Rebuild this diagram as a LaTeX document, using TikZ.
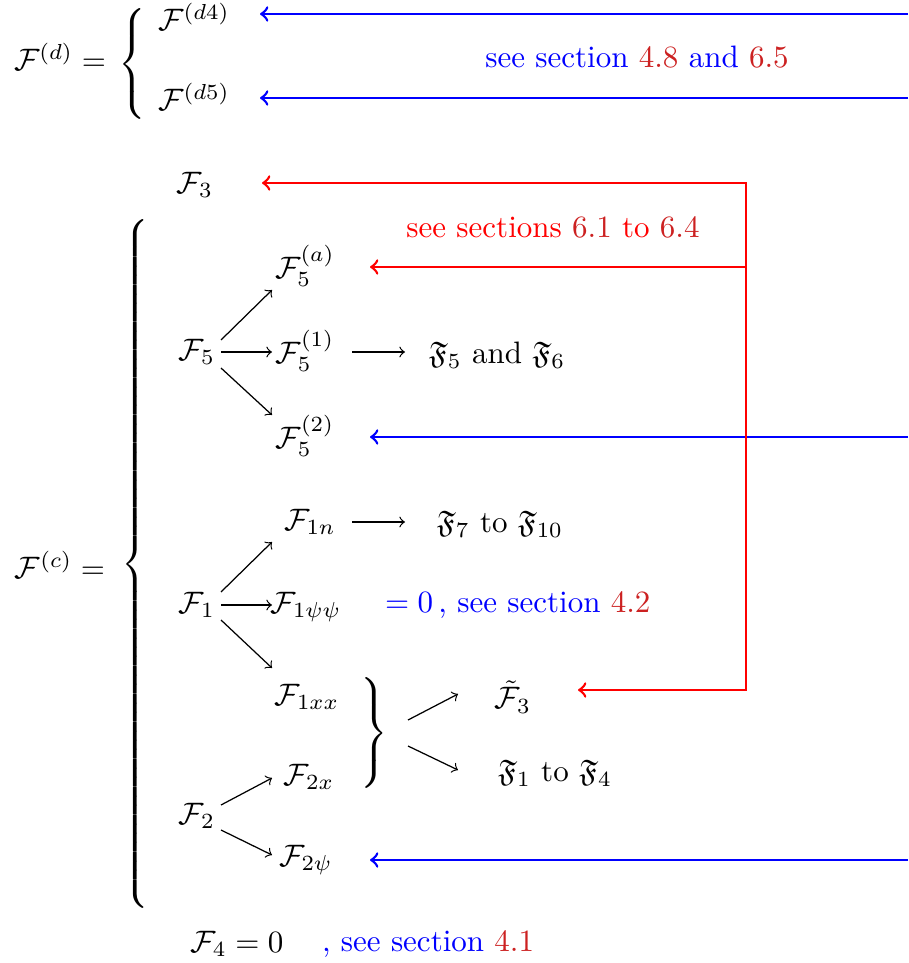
\documentclass[tikz,border=0pt]{standalone}
\usepackage{amsmath,amssymb}
\definecolor{linkred}{rgb}{0.8,0.13,0.13}
\tikzset{
  lbl/.style={inner sep=0pt, outer sep=0pt},
  thinarr/.style={->, line width=0.4pt, black},
  bluearr/.style={->, line width=0.85pt, blue},
  redarr/.style={line width=0.85pt, red},
}
\begin{document}
\begin{tikzpicture}[x=0.3226pt,y=-0.3226pt]
\useasboundingbox (0,0) rectangle (908,963);
% F^(d) block
\node[lbl] (Fd) at (60,57) {$\mathcal{F}^{(d)} =$};
\node[lbl] (braceD) at (134,64) {$\left\{\vrule height 22pt depth 17pt width 0pt\right.$};
\node[lbl] (Fd4) at (194,17) {$\mathcal{F}^{(d4)}$};
\node[lbl] (Fd5) at (194,97) {$\mathcal{F}^{(d5)}$};
\node[lbl, blue] (see48) at (637,57) {see section \textcolor{linkred}{4.8} and \textcolor{linkred}{6.5}};
% F3
\node[lbl] (F3) at (195,185) {$\mathcal{F}_3$};
\node[lbl, red] (see61) at (553,227) {see sections \textcolor{linkred}{6.1} to \textcolor{linkred}{6.4}};
% F^(c) block
\node[lbl] (Fc) at (60,565) {$\mathcal{F}^{(c)} =$};
\node[lbl] (braceC) at (137,564) {$\left\{\vrule height 115pt depth 110pt width 0pt\right.$};
% F5 group
\node[lbl] (F5) at (197,352) {$\mathcal{F}_5$};
\node[lbl] (F5a) at (305,266) {$\mathcal{F}_5^{(a)}$};
\node[lbl] (F51) at (305,351) {$\mathcal{F}_5^{(1)}$};
\node[lbl] (F52) at (305,436) {$\mathcal{F}_5^{(2)}$};
\node[lbl] (F56) at (497,355) {$\mathfrak{F}_5$ and $\mathfrak{F}_6$};
% F1 group
\node[lbl] (F1) at (197,605) {$\mathcal{F}_1$};
\node[lbl] (F1n) at (310,522) {$\mathcal{F}_{1n}$};
\node[lbl] (F1pp) at (306,607) {$\mathcal{F}_{1\psi\psi}$};
\node[lbl] (F1xx) at (307,697) {$\mathcal{F}_{1xx}$};
\node[lbl] (F710) at (500,524) {$\mathfrak{F}_7$ to $\mathfrak{F}_{10}$};
\node[lbl, blue, anchor=west] (eq0) at (385,605) {$= 0$\,, see section \textcolor{linkred}{4.2}};
% F2 group
\node[lbl] (F2) at (197,816) {$\mathcal{F}_2$};
\node[lbl] (F2x) at (309,777) {$\mathcal{F}_{2x}$};
\node[lbl] (F2p) at (306,860) {$\mathcal{F}_{2\psi}$};
\node[lbl] (braceR) at (372,733) {$\left.\vrule height 22pt depth 17pt width 0pt\right\}$};
\node[lbl] (F3t) at (513,697) {$\tilde{\mathcal{F}}_3$};
\node[lbl] (F14) at (555,773) {$\mathfrak{F}_1$ to $\mathfrak{F}_4$};
% F4
\node[lbl] (F4) at (237,944) {$\mathcal{F}_4 = 0$};
\node[lbl, blue, anchor=west] (see41) at (322,944) {, see section \textcolor{linkred}{4.1}};
% coordinates at the right edge and corners
\coordinate (rA) at (908,14);
\coordinate (rB) at (908,98);
\coordinate (rC) at (908,437);
\coordinate (rD) at (908,860);
\coordinate (cR1) at (746,183);
\coordinate (cR2) at (746,690);
\coordinate (cR3) at (746,267);
% thin black arrows
\draw[thinarr] ([shift={(24,-12)}]F5.center) -- ([shift={(-33,24)}]F5a.center);
\draw[thinarr] ([shift={(24,0)}]F5.center) -- ([shift={(-33,1)}]F51.center);
\draw[thinarr] ([shift={(24,16)}]F5.center) -- ([shift={(-33,-21)}]F52.center);
\draw[thinarr] ([shift={(24,-13)}]F1.center) -- ([shift={(-38,20)}]F1n.center);
\draw[thinarr] ([shift={(24,0)}]F1.center) -- ([shift={(-34,-2)}]F1pp.center);
\draw[thinarr] ([shift={(24,15)}]F1.center) -- ([shift={(-35,-29)}]F1xx.center);
\draw[thinarr] ([shift={(24,-11)}]F2.center) -- ([shift={(-37,1)}]F2x.center);
\draw[thinarr] ([shift={(24,14)}]F2.center) -- ([shift={(-34,-5)}]F2p.center);
\draw[thinarr] ([shift={(36,-13)}]braceR.center) -- ([shift={(-55,-3)}]F3t.center);
\draw[thinarr] ([shift={(36,13)}]braceR.center) -- ([shift={(-97,-3)}]F14.center);
\draw[thinarr] ([shift={(47,1)}]F51.center) -- ([shift={(-92,-3)}]F56.center);
\draw[thinarr] ([shift={(42,0)}]F1n.center) -- ([shift={(-95,-2)}]F710.center);
% blue arrows
\draw[bluearr] (rA) -- ([shift={(66,-3)}]Fd4.center);
\draw[bluearr] (rB) -- ([shift={(66,1)}]Fd5.center);
\draw[bluearr] (rC) -- ([shift={(65,1)}]F52.center);
\draw[bluearr] (rD) -- ([shift={(64,0)}]F2p.center);
% red arrows
\draw[redarr, <->] ([shift={(67,-2)}]F3.center) -- (cR1) -- (cR2) -- ([shift={(65,-7)}]F3t.center);
\draw[redarr, ->] (cR3) -- ([shift={(65,1)}]F5a.center);
\end{tikzpicture}
\end{document}
